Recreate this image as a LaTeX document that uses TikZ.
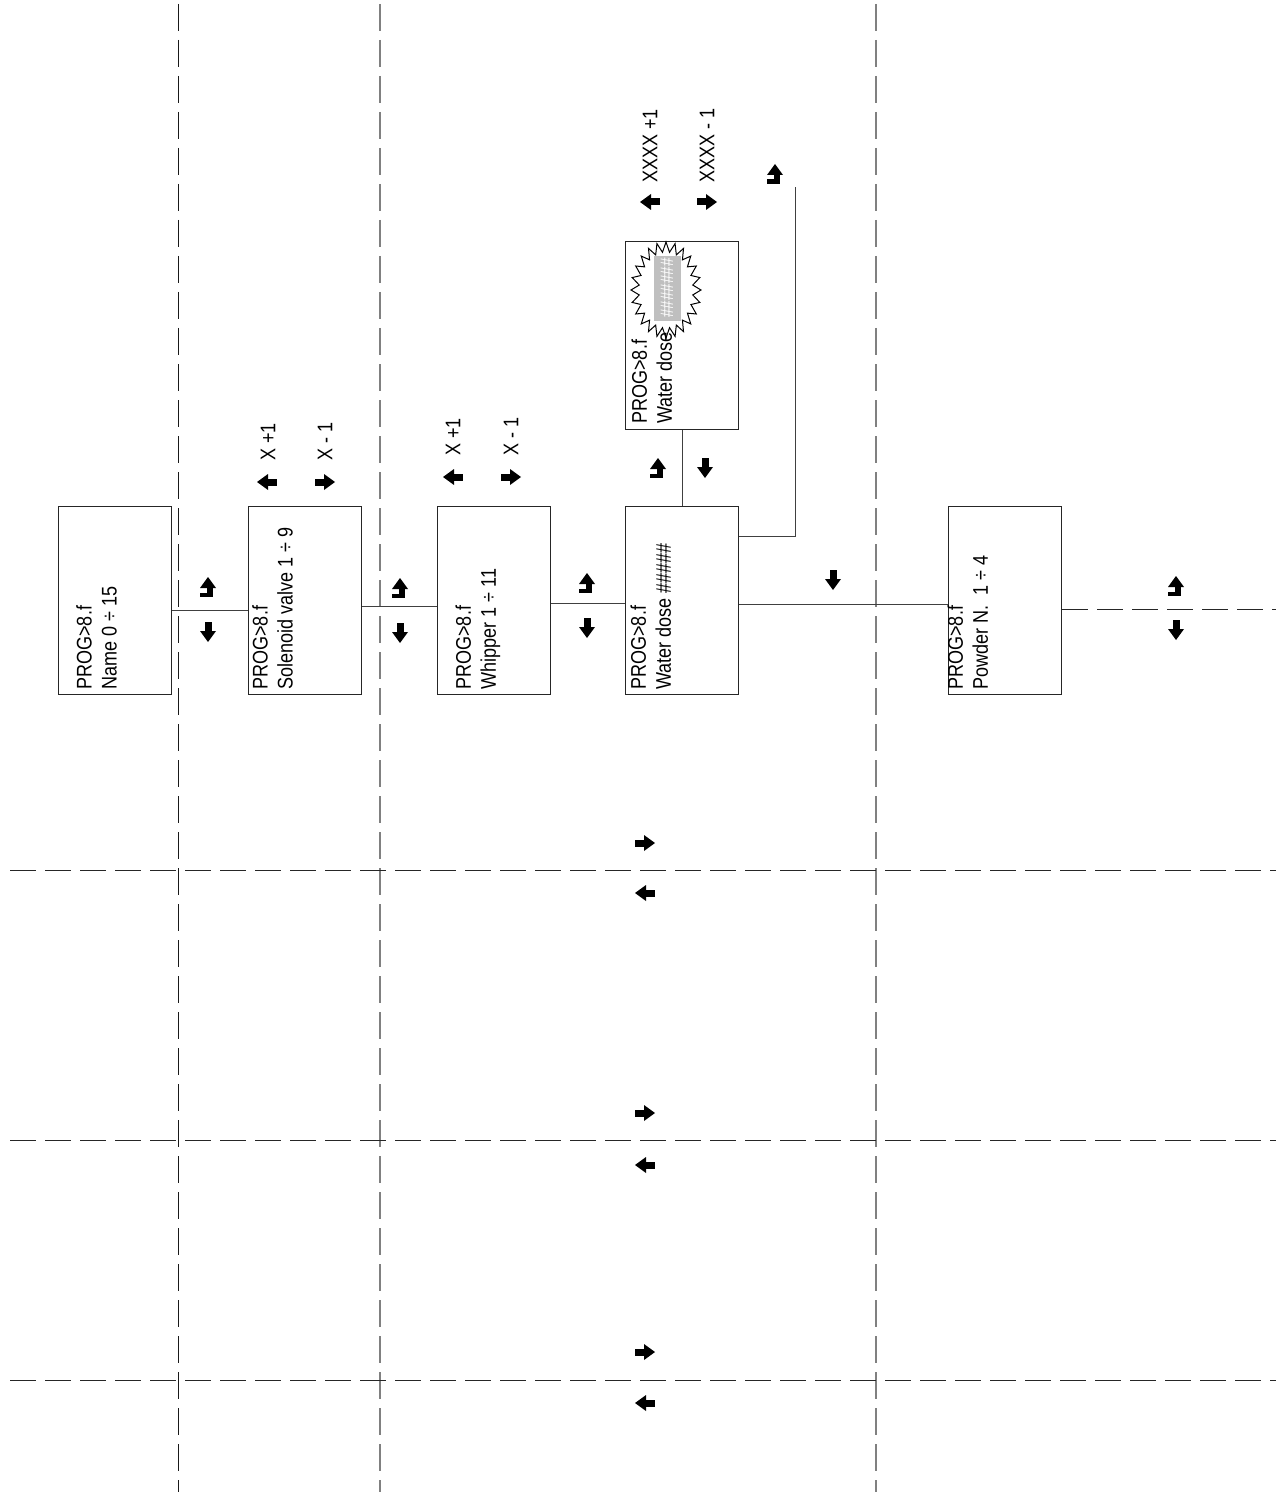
\documentclass[tikz,border=0pt]{standalone}
\usepackage{fontspec}
\setmainfont{Liberation Sans}[FakeStretch=0.85]
\begin{document}
\begin{tikzpicture}[x=0.5pt,y=-0.5pt,
  box/.style={draw=black!85,line width=0.5pt,minimum width=56.5pt,minimum height=94pt,inner sep=0,anchor=north west},
  txt/.style={rotate=90,inner sep=0,font=\fontsize{10.6}{12.5}\selectfont,align=left},
  conn/.style={draw=black!75,line width=0.5pt},
  vdash/.style={line width=0.5pt,dash pattern=on 13.5pt off 4.5pt},
  hdash/.style={line width=0.5pt,draw=black!85,dash pattern=on 13pt off 4.5pt},
  adown/.pic={\fill (-3.5,-10) rectangle (3.5,0); \fill (-8,-1) -- (8,-1) -- (0,10) -- cycle;},
  aup/.pic={\fill (-8,1) -- (8,1) -- (0,-10) -- cycle; \fill (-1,0) rectangle (4.5,10); \fill (-8,5.5) rectangle (4.5,10);},
  aright/.pic={\fill (-10,-3.5) rectangle (0,3.5); \fill (-1,-8) -- (-1,8) -- (10,0) -- cycle;},
  aleft/.pic={\fill (10,-3.5) rectangle (0,3.5); \fill (1,-8) -- (1,8) -- (-10,0) -- cycle;}
]
\useasboundingbox (0,0) rectangle (1276,1492);

% grid of dashed lines
\draw[vdash,draw=black!90] (178,4) -- (178,1492);
\draw[vdash,draw=black!50,line width=0.7pt] (380,4) -- (380,1492);
\draw[vdash,draw=black!50,line width=0.7pt] (876,4) -- (876,1492);
\draw[hdash] (10,870) -- (1276,870);
\draw[hdash] (10,1140) -- (1276,1140);
\draw[hdash] (10,1380) -- (1276,1380);

% boxes
\node[box,fill=white] (b1) at (58,506) {};
\node[box,fill=white] (b2) at (248,506) {};
\node[box,fill=white] (b3) at (437,506) {};
\node[box,fill=white] (b4) at (625,506) {};
\node[box,fill=white] (b5) at (625,241) {};
\node[box,fill=white] (b6) at (948,506) {};

% box texts
\node[txt,anchor=north west] (t1) at (76,690) {PROG>8.f\\Name 0 ÷ 15};
\node[txt,anchor=north west] (t2) at (252,690) {PROG>8.f\\Solenoid valve 1 ÷ 9};
\node[txt,anchor=north west] (t3) at (455,690) {PROG>8.f\\Whipper 1 ÷ 11};
\node[txt,anchor=north west] (t4) at (630,690) {PROG>8.f\\Water dose \#\#\#\#\#};
\node[txt,anchor=north west] (t5) at (631,424) {PROG>8.f\\Water dose};
\node[txt,anchor=north west] (t6) at (947,690) {PROG>8.f\\Powder N.\ \ 1 ÷ 4};

% starburst in water dose box
\draw[black,line width=0.5pt]
  plot[samples=48,domain=0:47,variable=\k] ({666+(mod(\k,2)==0 ? 35 : 27)*cos(\k*7.5)},{290+(mod(\k,2)==0 ? 48 : 38)*sin(\k*7.5)}) -- cycle;
\fill[black!25] (654,256) rectangle (681,321);
\node[txt,text=white,font=\fontsize{9}{10}\selectfont] (hs) at (667,288) {\#\#\#\#\#\#\#};

% labels above boxes
\node[txt,anchor=west] (l1) at (268,461) {X +1};
\node[txt,anchor=west] (l2) at (325,461) {X - 1};
\node[txt,anchor=west] (l3) at (453,456) {X +1};
\node[txt,anchor=west] (l4) at (511,456) {X - 1};
\node[txt,anchor=west] (l5) at (650,183) {XXXX +1};
\node[txt,anchor=west] (l6) at (707,183) {XXXX - 1};

% connectors
\coordinate (up1) at (795,187);
\coordinate (rend) at (1276,609);
\draw[conn] (b1.east |- 0,610) -- (b2.west |- 0,610);
\draw[conn] (b2.east |- 0,606) -- (b3.west |- 0,606);
\draw[conn] (b3.east |- 0,603) -- (b4.west |- 0,603);
\draw[conn] (b4.east |- 0,604) -- (b6.west |- 0,604);
\draw[conn] (b5.south -| 682,0) -- (b4.north -| 682,0);
\draw[conn] (b4.east |- 0,536) -| (up1);
\draw[hdash] (b6.east |- rend) -- (rend);

% arrow glyphs
\pic at (208,587) {aup};   \pic at (208,632) {adown};
\pic at (400,588) {aup};   \pic at (400,633) {adown};
\pic at (587,583) {aup};   \pic at (587,628) {adown};
\pic at (658,468) {aup};   \pic at (705,468) {adown};
\pic at (833,580) {adown};
\pic at (1176,586) {aup};  \pic at (1176,630) {adown};
\pic at (775,174) {aup};
\pic at (267,482) {aleft}; \pic at (325,482) {aright};
\pic at (453,477) {aleft}; \pic at (511,477) {aright};
\pic at (650,202) {aleft}; \pic at (707,202) {aright};
\pic at (645,843) {aright}; \pic at (645,893) {aleft};
\pic at (645,1113) {aright}; \pic at (645,1165) {aleft};
\pic at (645,1352) {aright}; \pic at (645,1403) {aleft};
\end{tikzpicture}
\end{document}
